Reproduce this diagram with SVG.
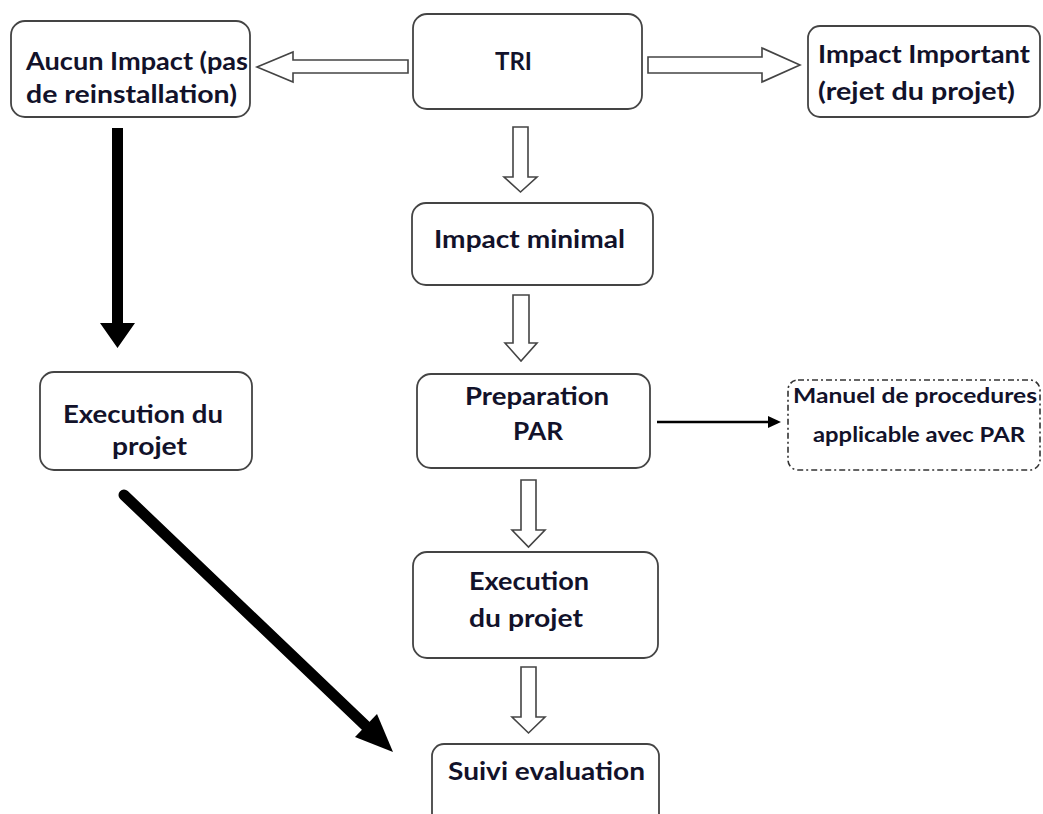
<svg xmlns="http://www.w3.org/2000/svg" width="1043" height="814" viewBox="0 0 1043 814">
<style>
.box{fill:#fff;stroke:#444;stroke-width:1.8}
.dd{fill:#fff;stroke:#333;stroke-width:1.6;stroke-dasharray:6 3 2 3}
.t{font-family:Lato,"Open Sans","Liberation Sans",sans-serif;font-weight:bold;font-size:25px;fill:#12122a}
.s{font-size:21px}
.hollow{fill:#fff;stroke:#444;stroke-width:1.6;stroke-linejoin:miter}
.solid{fill:#000;stroke:none}
</style>
<rect width="1043" height="814" fill="#fff"/>
<g id="connectors">
<polygon class="hollow" points="257,67 293,52 293,60 408,60 408,73 293,73 293,82"/>
<polygon class="hollow" points="648,57 762,57 762,48 800,65 762,82 762,73 648,73"/>
<polygon class="hollow" points="513,127 528,127 528,177 537,177 520.5,192 504,177 513,177"/>
<polygon class="hollow" points="513,295 529,295 529,343 537,343 521,361 505,343 513,343"/>
<polygon class="hollow" points="521,480 536,480 536,530 545,530 528.5,547 512,530 521,530"/>
<polygon class="hollow" points="521,667 536,667 536,717 545,717 528.5,733 512,717 521,717"/>
<polygon class="solid" points="112,128 123,128 123,323 135,323 117.5,348 100,323 112,323"/>
<line x1="124" y1="495" x2="368" y2="728" stroke="#000" stroke-width="11" stroke-linecap="round"/>
<polygon class="solid" points="393,752 355,737 377,714"/>
<line x1="657" y1="422" x2="770" y2="422" stroke="#000" stroke-width="2.5"/>
<polygon class="solid" points="781,422 768,416 768,428"/>
</g>
<g id="node-aucun">
<rect class="box" x="11" y="21" width="239" height="96" rx="14"/>
<text class="t" x="26" y="70" textLength="222" lengthAdjust="spacingAndGlyphs">Aucun Impact (pas</text>
<text class="t" x="26" y="103" textLength="211" lengthAdjust="spacingAndGlyphs">de reinstallation)</text>
</g>
<g id="node-tri">
<rect class="box" x="413" y="14" width="229" height="95" rx="14"/>
<text class="t" x="495" y="70" textLength="37" lengthAdjust="spacingAndGlyphs">TRI</text>
</g>
<g id="node-important">
<rect class="box" x="808" y="26" width="232" height="91" rx="12"/>
<text class="t" x="818" y="63" textLength="212" lengthAdjust="spacingAndGlyphs">Impact Important</text>
<text class="t" x="818" y="100" textLength="197" lengthAdjust="spacingAndGlyphs">(rejet du projet)</text>
</g>
<g id="node-minimal">
<rect class="box" x="412" y="203" width="241" height="82" rx="14"/>
<text class="t" x="434" y="248" textLength="191" lengthAdjust="spacingAndGlyphs">Impact minimal</text>
</g>
<g id="node-execution-left">
<rect class="box" x="40" y="372" width="212" height="98" rx="14"/>
<text class="t" x="63" y="423" textLength="160" lengthAdjust="spacingAndGlyphs">Execution du</text>
<text class="t" x="112" y="455" textLength="75" lengthAdjust="spacingAndGlyphs">projet</text>
</g>
<g id="node-preparation">
<rect class="box" x="417" y="374" width="233" height="94" rx="14"/>
<text class="t" x="465" y="405" textLength="144" lengthAdjust="spacingAndGlyphs">Preparation</text>
<text class="t" x="513" y="440" textLength="50" lengthAdjust="spacingAndGlyphs">PAR</text>
</g>
<g id="node-manuel">
<rect class="dd" x="788" y="380" width="252" height="90" rx="10"/>
<text class="t s" x="793" y="403" textLength="244" lengthAdjust="spacingAndGlyphs">Manuel de procedures</text>
<text class="t s" x="813" y="442" textLength="212" lengthAdjust="spacingAndGlyphs">applicable avec PAR</text>
</g>
<g id="node-execution-right">
<rect class="box" x="413" y="552" width="245" height="106" rx="14"/>
<text class="t" x="469" y="590" textLength="120" lengthAdjust="spacingAndGlyphs">Execution</text>
<text class="t" x="469" y="627" textLength="114" lengthAdjust="spacingAndGlyphs">du projet</text>
</g>
<g id="node-suivi">
<rect class="box" x="432" y="744" width="227" height="90" rx="12"/>
<text class="t" x="448" y="780" textLength="197" lengthAdjust="spacingAndGlyphs">Suivi evaluation</text>
</g>
</svg>
